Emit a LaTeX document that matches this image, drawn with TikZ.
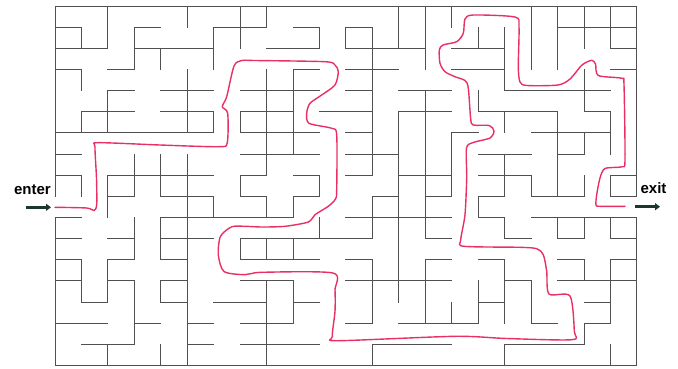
\documentclass[tikz,border=0pt]{standalone}
\usepackage{fontspec}
\setmainfont{Liberation Sans}
\usetikzlibrary{arrows.meta}
\definecolor{wall}{RGB}{80,80,80}
\definecolor{route}{RGB}{232,48,100}
\definecolor{arrowc}{RGB}{30,55,45}
\begin{document}
\begin{tikzpicture}[x=1pt,y=-1pt,
  wallline/.style={draw=wall,line width=1pt,line cap=rect},
  routeline/.style={draw=route,line width=1.4pt,line cap=round,line join=round},
  lbl/.style={font=\bfseries\fontsize{15}{18}\selectfont,inner sep=0pt},
  pointer/.style={draw=arrowc,line width=2.6pt,-{Triangle[length=5pt,width=7pt]}}]
\useasboundingbox (0,0) rectangle (678,368);
\fill[white] (0,0) rectangle (678,368);
\begin{scope}[shift={(55,6)},x=26.45pt,y=-21.15pt]
% horizontal walls: row/from/to
\foreach \j/\a/\b in {
 0/0/22,
 1/0/1, 1/3/4, 1/6/8, 1/9/10, 1/11/12, 1/19/22,
 2/0/2, 2/3/6, 2/8/10, 2/11/14, 2/15/17, 2/21/22,
 3/0/1, 3/2/3, 3/9/10, 3/11/13, 3/15/17, 3/21/22,
 4/2/3, 4/4/6, 4/7/10, 4/11/12, 4/13/15, 4/17/21,
 5/1/3, 5/4/6, 5/7/9, 5/10/12, 5/13/15, 5/16/19, 5/20/21,
 6/0/6, 6/7/10, 6/11/12, 6/15/16, 6/18/21,
 7/0/1, 7/7/10, 7/11/13, 7/16/18, 7/19/20,
 8/0/1, 8/2/6, 8/7/8, 8/9/10, 8/11/12, 8/13/15, 8/16/18, 8/21/22,
 9/2/3, 9/4/6, 9/7/8, 9/9/10, 9/12/13, 9/14/15, 9/16/17, 9/18/20, 9/21/22,
 10/0/1, 10/4/9, 10/11/15, 10/16/17, 10/18/22,
 11/0/1, 11/2/3, 11/4/6, 11/7/12, 11/14/15, 11/17/18, 11/19/20, 11/21/22,
 12/0/1, 12/2/3, 12/4/5, 12/7/10, 12/11/12, 12/14/15, 12/16/17, 12/19/20, 12/21/22,
 13/0/1, 13/2/3, 13/4/5, 13/7/9, 13/11/15, 13/17/18, 13/19/22,
 14/1/2, 14/4/5, 14/6/8, 14/9/10, 14/16/17, 14/20/21,
 15/0/2, 15/3/4, 15/5/6, 15/7/9, 15/11/12, 15/13/16, 15/18/19, 15/20/21,
 16/1/3, 16/5/6, 16/7/10, 16/12/15, 16/17/20,
 17/0/22}
 \draw[wallline] (\a,\j) -- (\b,\j);
% vertical walls: column/from/to
\foreach \i/\a/\b in {
 0/0/9, 0/10/17,
 1/1/2, 1/3/4, 1/5/6, 1/8/9, 1/12/14,
 2/0/2, 2/4/6, 2/8/10, 2/12/14, 2/16/17,
 3/1/3, 3/7/9, 3/10/12, 3/13/16,
 4/2/3, 4/7/9, 4/10/12, 4/13/14, 4/16/17,
 5/0/1, 5/3/6, 5/7/17,
 6/1/3, 6/5/6, 6/9/10,
 7/0/2, 7/5/6, 7/8/9, 7/11/12,
 8/0/1, 8/3/8, 8/9/10, 8/11/12, 8/13/17,
 9/3/7, 9/9/10, 9/11/12, 9/13/15,
 10/1/2, 10/8/9, 10/10/11,
 11/1/2,
 12/1/8, 12/9/11, 12/12/15, 12/16/17,
 13/0/2, 13/5/14,
 14/0/3, 14/4/11, 14/12/15,
 15/0/1, 15/6/9, 15/14/15,
 16/1/2, 16/4/5, 16/9/10, 16/13/15,
 17/1/4, 17/5/6, 17/7/9, 17/10/11, 17/12/15, 17/16/17,
 18/0/3, 18/8/9, 18/13/15,
 19/0/3, 19/5/9, 19/10/11,
 20/0/2, 20/3/5, 20/6/7, 20/8/9, 20/10/11, 20/12/13, 20/15/16,
 21/0/2, 21/5/7, 21/8/9, 21/10/11, 21/12/15, 21/16/17,
 22/0/9, 22/10/17}
 \draw[wallline] (\i,\a) -- (\i,\b);
\end{scope}
% solution route
\draw[routeline] plot[smooth,tension=0.45] coordinates {
 (55,207.3) (86.7,208) (94,210.5) (96.7,204.7) (96.5,178) (95,147) (98.3,142.7)
 (160,145) (218.3,146.7) (227.2,143) (227.7,113.3) (222.3,106.7) (226.7,96.7)
 (234,66) (241.7,60.5) (255,60.5) (325,61.7) (335,65) (338.3,71.7) (335,85)
 (321.7,95) (310,103.3) (306.7,113.3) (309,123.3) (331.7,128.3) (336.7,135)
 (336.7,190) (335.5,199) (328.3,206.3) (315,214.7) (308.3,222) (285,226.3)
 (261.7,227) (245,226.3) (231.7,226.8) (220.5,236.3) (218.3,254.7) (224,271.5)
 (245,274.7) (261.7,272.3) (333,273) (335,290) (335,311.3) (332.3,336.5)
 (338,340.7) (455,336.3) (506.7,338.5) (572,339.7) (574.3,331.3) (570,296)
 (549,294) (546.7,271.3) (543.3,254.7) (536.7,248.7) (520,247.3) (464,246.3)
 (460.7,240) (465,214.7) (466.7,178) (466.5,148) (473.3,142.5) (490,138)
 (494,131) (489.3,125.5) (473.3,125) (470.7,119) (468.3,88) (465,80.5)
 (455,76.7) (445,71.7) (440,63.3) (439.3,50) (443,45) (456.7,41.7) (463.3,33.3)
 (465,19) (473.3,15) (515,17) (519,26.7) (518.3,66.7) (520,82) (527,85.5)
 (558,85) (570,79) (582,65) (591.7,60.3) (595.5,64) (598.3,75.5) (621.7,78.3)
 (624,85) (625,160) (622,166.7) (605,168.5) (600,178) (596.7,194.7) (596,205)
 (600,206.3) (625,206.3)};
% labels and arrows
\node[lbl,anchor=base] (enterlbl) at (32.5,194) {enter};
\node[lbl,anchor=base] (exitlbl) at (653.5,193.5) {exit};
\coordinate (enterfrom) at (26,207.3);
\coordinate (enterto) at (51,207.3);
\coordinate (exitfrom) at (635,206.7);
\coordinate (exitto) at (660,206.7);
\draw[pointer] (enterfrom) -- (enterto);
\draw[pointer] (exitfrom) -- (exitto);
\end{tikzpicture}
\end{document}
